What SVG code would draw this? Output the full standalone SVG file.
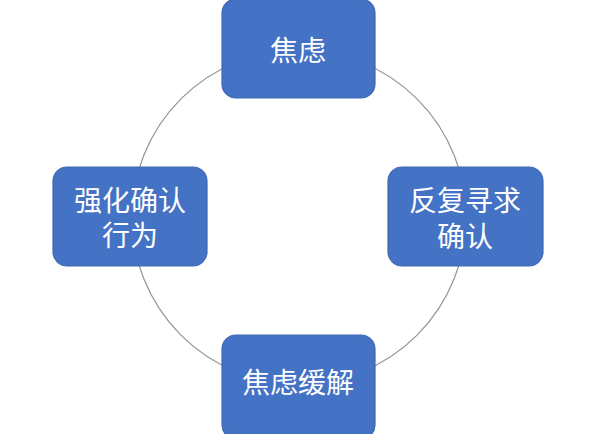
<svg xmlns="http://www.w3.org/2000/svg" width="600" height="434" viewBox="0 0 600 434">
<style>
.box{fill:#4472C4;stroke:#3F68B3;stroke-width:1.2}
.t{fill:#ffffff;font-family:"Liberation Sans","Noto Sans CJK SC",sans-serif;font-size:28px;text-anchor:middle;dominant-baseline:central}
.c{fill:none;stroke:#939393;stroke-width:1.2}
</style>
<rect width="600" height="434" fill="#ffffff"/>
<g id="connectors">
<circle class="c" cx="299" cy="217" r="167"/>
</g>
<g id="node-top">
<rect class="box" x="222" y="-1" width="153" height="99" rx="14"/>
<text class="t" x="298" y="51">焦虑</text>
</g>
<g id="node-right">
<rect class="box" x="388" y="167" width="155" height="99" rx="14"/>
<text class="t" x="465" y="201">反复寻求</text>
<text class="t" x="465" y="237">确认</text>
</g>
<g id="node-bottom">
<rect class="box" x="222" y="335" width="153" height="104" rx="14"/>
<text class="t" x="298" y="383">焦虑缓解</text>
</g>
<g id="node-left">
<rect class="box" x="53" y="167" width="154" height="99" rx="14"/>
<text class="t" x="130" y="201">强化确认</text>
<text class="t" x="130" y="236">行为</text>
</g>
</svg>
